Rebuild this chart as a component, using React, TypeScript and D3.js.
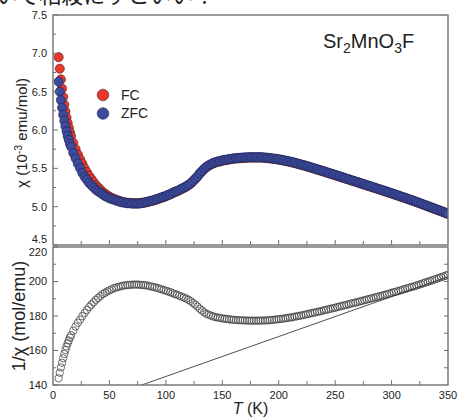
import React from "react";
import * as d3 from "d3";

const temps = [5,6,7,8,9,10,11,12,13,14,15,16,18,20,22,24,26,28,30,32,34,36,38,40,42,44,46,48,50,52,54,56,58,60,62,64,66,68,70,72,74,76,78,80,82,84,86,88,90,92,94,96,98,100,102,104,106,108,110,112,114,116,118,120,122,124,126,128,130,132,134,136,138,140,142,144,146,148,150,152,154,156,158,160,162,164,166,168,170,172,174,176,178,180,182,184,186,188,190,192,194,196,198,200,202,204,206,208,210,212,214,216,218,220,222,224,226,228,230,232,234,236,238,240,242,244,246,248,250,252,254,256,258,260,262,264,266,268,270,272,274,276,278,280,282,284,286,288,290,292,294,296,298,300,302,304,306,308,310,312,314,316,318,320,322,324,326,328,330,332,334,336,338,340,342,344,346,348,350];

const chiFC = [6.95,6.80,6.66,6.54,6.43,6.33,6.24,6.16,6.09,6.03,5.97,5.92,
5.83,5.75,5.68,5.62,5.56,5.50,5.45,5.40,5.36,5.32,
5.28,5.25,5.22,5.19,5.17,5.15,5.13,5.115,5.10,5.09,
5.08,5.07,5.06,5.055,5.05,5.05,5.045,5.045,5.045,5.045,5.05,5.05,
5.055,5.06,5.07,5.075,5.085,5.095,5.105,5.115,5.125,5.135,
5.15,5.16,5.175,5.19,5.20,5.215,5.23,5.245,5.26,5.28,
5.30,5.33,5.36,5.39,5.43,5.46,5.49,5.515,5.535,5.55,
5.565,5.575,5.585,5.59,5.60,5.605,5.61,5.615,5.62,5.625,
5.628,5.63,5.633,5.635,5.637,5.638,5.64,5.64,5.64,5.64,
5.64,5.64,5.638,5.636,5.633,5.63,5.626,5.622,5.618,5.613,
5.608,5.602,5.596,5.59,5.583,5.576,5.569,5.561,5.553,5.545,
5.537,5.529,5.52,5.511,5.502,5.493,5.484,5.475,5.466,5.457,
5.447,5.438,5.428,5.419,5.41,5.40,5.391,5.381,5.372,5.362,
5.353,5.343,5.334,5.324,5.315,5.305,5.296,5.286,5.277,5.267,
5.258,5.248,5.239,5.229,5.22,5.21,5.20,5.191,5.181,5.171,
5.161,5.151,5.141,5.131,5.121,5.111,5.10,5.09,5.08,5.07,
5.059,5.048,5.037,5.026,5.015,5.004,4.993,4.982,4.971,4.96,4.949,4.938,4.927,4.916,4.905];

const chiZFC = [6.63,6.50,6.39,6.29,6.20,6.12,6.05,5.98,5.92,5.87,5.82,5.78,
5.70,5.63,5.56,5.50,5.44,5.39,5.35,5.31,5.28,5.25,
5.22,5.20,5.18,5.16,5.14,5.125,5.11,5.10,5.09,5.08,
5.07,5.06,5.055,5.05,5.045,5.045,5.04,5.04,5.04,5.04,5.045,5.05,
5.06,5.065,5.075,5.08,5.09,5.10,5.11,5.12,5.13,5.14,
5.155,5.165,5.18,5.195,5.205,5.22,5.235,5.25,5.265,5.285,
5.305,5.335,5.365,5.395,5.435,5.465,5.495,5.52,5.54,5.555,
5.57,5.58,5.59,5.595,5.605,5.61,5.615,5.62,5.625,5.63,
5.633,5.635,5.638,5.64,5.642,5.643,5.645,5.645,5.645,5.645,
5.645,5.645,5.643,5.641,5.638,5.635,5.631,5.627,5.623,5.618,
5.613,5.607,5.601,5.595,5.588,5.581,5.574,5.566,5.558,5.55,
5.542,5.534,5.525,5.516,5.507,5.498,5.489,5.48,5.471,5.462,
5.452,5.443,5.433,5.424,5.415,5.405,5.396,5.386,5.377,5.367,
5.358,5.348,5.339,5.329,5.32,5.31,5.301,5.291,5.282,5.272,
5.263,5.253,5.244,5.234,5.225,5.215,5.205,5.196,5.186,5.176,
5.166,5.156,5.146,5.136,5.126,5.116,5.105,5.095,5.085,5.075,
5.064,5.053,5.042,5.031,5.02,5.009,4.998,4.987,4.976,4.965,4.954,4.943,4.932,4.921,4.91];

const invChi = [143.9,147.1,150.2,152.9,155.5,158.0,160.3,162.3,164.2,165.8,167.5,168.9,
171.5,173.9,176.1,177.9,179.9,181.8,183.5,185.2,186.6,188.0,
189.4,190.5,191.6,192.7,193.4,194.2,194.9,195.5,196.1,196.5,
196.9,197.2,197.6,197.8,198.0,198.0,198.2,198.2,198.2,198.2,198.0,198.0,
197.8,197.6,197.2,197.0,196.7,196.3,195.9,195.5,195.1,194.7,
194.2,193.8,193.2,192.7,192.3,191.8,191.2,190.7,190.1,189.4,
188.7,187.6,186.6,185.5,184.2,183.2,182.1,181.3,180.7,180.2,
179.7,179.4,179.1,178.9,178.6,178.4,178.3,178.1,177.9,177.8,
177.7,177.6,177.5,177.5,177.4,177.4,177.3,177.3,177.3,177.3,
177.3,177.3,177.4,177.4,177.5,177.6,177.7,177.9,178.0,178.2,
178.3,178.5,178.7,178.9,179.1,179.3,179.6,179.8,180.1,180.3,
180.6,180.9,181.2,181.5,181.8,182.0,182.4,182.6,182.9,183.3,
183.6,183.9,184.2,184.5,184.8,185.2,185.5,185.8,186.2,186.5,
186.8,187.2,187.5,187.8,188.1,188.5,188.8,189.2,189.5,189.9,
190.2,190.5,190.9,191.2,191.6,191.9,192.3,192.6,193.0,193.4,
193.8,194.1,194.5,194.9,195.3,195.7,196.1,196.5,196.9,197.2,
197.7,198.1,198.5,199.0,199.4,199.8,200.3,200.7,201.2,201.6,202.1,202.5,203.0,203.4,203.9];

const fitT = [78.6, 350];
const fitInv = [140, 202.8];

const topTicks = [4.5, 5.0, 5.5, 6.0, 6.5, 7.0, 7.5];
const botTicks = [140, 160, 180, 200, 220];
const xTickLabels = [0, 50, 100, 150, 200, 250, 300, 350];
const legendItems = ["FC", "ZFC"];

const W = 458, H = 417;
const L = 53, R = 448;
const T1 = 15, B1 = 245, T2 = 247, B2 = 385;
const FONT = "Liberation Sans, Arial, sans-serif";
const FRAME = "#707070";
const RED = "#e8392c";
const BLUE = "#3d4b9c";

export default function App() {
  const x = d3.scaleLinear().domain([0, 350]).range([L, R]);
  const yTop = d3.scaleLinear().domain([4.5, 7.5]).range([B1, T1]);
  const yBot = d3.scaleLinear().domain([140, 220]).range([B2, T2]);

  const xMinor = d3.range(25, 350, 25);
  const topMinor = d3.range(4.75, 7.5, 0.5);
  const botMinor = d3.range(150, 220, 20);
  const botRight = d3.range(150, 220, 10);

  const fitLine = d3.line<number>().x((_, i) => x(fitT[i])).y((v) => yBot(v));

  return (
    <svg width={W} height={H} style={{ position: "absolute", left: 0, top: 0, background: "#fff" }} fontFamily={FONT}>
      <defs>
        <clipPath id="clipTop"><rect x={L} y={T1} width={R - L} height={B1 - T1} /></clipPath>
        <clipPath id="clipBot"><rect x={L} y={T2} width={R - L} height={B2 - T2} /></clipPath>
      </defs>
      <rect width={W} height={H} fill="#fff" />
      {/* cut-off page text */}
      <text x={-4} y={3} fontSize={22} fontFamily="Noto Sans CJK JP, sans-serif" fill="#222">いで相殺にすといい！</text>

      {/* top panel data */}
      <g clipPath="url(#clipTop)">
        {temps.map((t, i) => (
          <circle key={"fc" + i} cx={x(t)} cy={yTop(chiFC[i])} r={4.6} fill={RED} stroke="#4a2020" strokeWidth={0.6} />
        ))}
        {temps.map((t, i) => (
          <circle key={"zfc" + i} cx={x(t)} cy={yTop(chiZFC[i])} r={4.6} fill={BLUE} stroke="#1c2050" strokeWidth={0.6} />
        ))}
      </g>

      {/* bottom panel data */}
      <g clipPath="url(#clipBot)">
        <path d={fitLine(fitInv) || ""} fill="none" stroke="#222" strokeWidth={0.8} />
        {temps.map((t, i) => (
          <circle key={"inv" + i} cx={x(t)} cy={yBot(invChi[i])} r={3.7} fill="none" stroke="#333" strokeWidth={0.7} />
        ))}
      </g>

      {/* frames */}
      <rect x={L} y={T1} width={R - L} height={B1 - T1} fill="none" stroke={FRAME} strokeWidth={1.4} />
      <rect x={L} y={T2} width={R - L} height={B2 - T2} fill="none" stroke={FRAME} strokeWidth={1.4} />

      {/* top panel y ticks */}
      {topTicks.map((v) => (
        <g key={"tt" + v}>
          <line x1={L} x2={L + 5} y1={yTop(v)} y2={yTop(v)} stroke={FRAME} strokeWidth={1} />
          <text x={L - 6} y={yTop(v) + (v === 4.5 ? -6 : 0)} dy="0.35em" textAnchor="end" fontSize={11} fill="#222">{v.toFixed(1)}</text>
        </g>
      ))}
      {topMinor.map((v) => (
        <line key={"tm" + v} x1={L} x2={L + 3} y1={yTop(v)} y2={yTop(v)} stroke={FRAME} strokeWidth={1} />
      ))}

      {/* bottom panel y ticks */}
      {botTicks.map((v) => (
        <g key={"bt" + v}>
          <line x1={L} x2={L + 5} y1={yBot(v)} y2={yBot(v)} stroke={FRAME} strokeWidth={1} />
          <text x={L - 6} y={yBot(v) + (v === 220 ? 5 : 0)} dy="0.35em" textAnchor="end" fontSize={11} fill="#222">{v}</text>
        </g>
      ))}
      {botMinor.map((v) => (
        <line key={"bm" + v} x1={L} x2={L + 3} y1={yBot(v)} y2={yBot(v)} stroke={FRAME} strokeWidth={1} />
      ))}
      {botRight.map((v) => (
        <line key={"br" + v} x1={R - 4} x2={R} y1={yBot(v)} y2={yBot(v)} stroke={FRAME} strokeWidth={1} />
      ))}

      {/* x ticks */}
      {xMinor.map((t) => (
        <g key={"xt" + t}>
          <line x1={x(t)} x2={x(t)} y1={B1} y2={B1 - (t % 50 === 0 ? 5 : 4)} stroke={FRAME} strokeWidth={1} />
          <line x1={x(t)} x2={x(t)} y1={B2} y2={B2 - (t % 50 === 0 ? 5 : 4)} stroke={FRAME} strokeWidth={1} />
        </g>
      ))}
      {xTickLabels.map((t) => (
        <text key={"xl" + t} x={x(t)} y={B2 + 14} textAnchor="middle" fontSize={11} fill="#222">{t}</text>
      ))}

      {/* axis titles */}
      <text transform={`translate(27,${(T1 + B1) / 2 + 3}) rotate(-90)`} textAnchor="middle" fontSize={15} fill="#222">
        χ (10<tspan dy="-5" fontSize={10.5}>-3</tspan><tspan dy="5"> emu/mol)</tspan>
      </text>
      <text transform={`translate(25,${(T2 + B2) / 2}) rotate(-90)`} textAnchor="middle" fontSize={18} fill="#222">
        1/χ (mol/emu)
      </text>
      <text x={x(175)} y={414} textAnchor="middle" fontSize={16} fill="#222">
        <tspan fontStyle="italic">T</tspan> (K)
      </text>

      {/* compound label */}
      <text x={323} y={48} fontSize={20} fill="#222">
        Sr<tspan dy="5" fontSize={14}>2</tspan><tspan dy="-5">MnO</tspan><tspan dy="5" fontSize={14}>3</tspan><tspan dy="-5">F</tspan>
      </text>

      {/* legend */}
      {legendItems.map((name, i) => (
        <g key={name}>
          <circle cx={103} cy={95 + i * 18.5} r={5.8} fill={i === 0 ? RED : BLUE} stroke={i === 0 ? "#4a2020" : "#1c2050"} strokeWidth={0.6} />
          <text x={121} y={95 + i * 18.5} dy="0.35em" fontSize={14} fill="#222">{name}</text>
        </g>
      ))}
    </svg>
  );
}
